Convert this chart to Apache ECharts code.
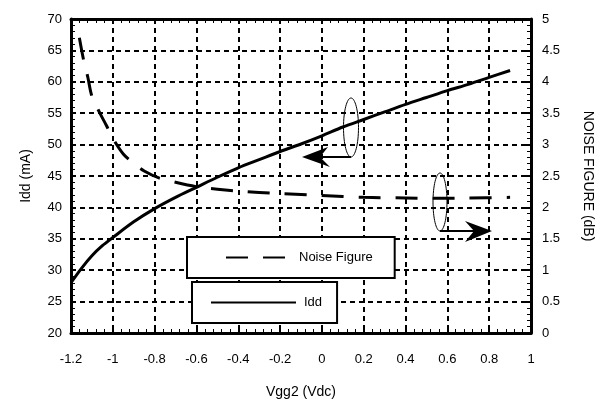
<!DOCTYPE html>
<html>
<head>
<meta charset="utf-8">
<script src="https://cdn.jsdelivr.net/npm/echarts@6/dist/echarts.min.js"></script>
<style>
html,body{margin:0;padding:0;background:#fff;}
#main{width:603px;height:404px;}
</style>
</head>
<body>
<div id="main"></div>
<script>
// Vgg2 (Vdc) values for each series
var iddX = [-1.2, -1.15, -1.1, -1.05, -1.0, -0.9, -0.8, -0.7, -0.6, -0.5, -0.4, -0.3, -0.2, -0.1, 0.0, 0.1, 0.2, 0.3, 0.4, 0.5, 0.6, 0.7, 0.8, 0.9];
var iddY = [28.0, 30.3, 32.3, 33.9, 35.2, 37.7, 39.8, 41.6, 43.2, 44.8, 46.3, 47.6, 48.9, 50.1, 51.4, 52.8, 54.0, 55.2, 56.4, 57.5, 58.6, 59.6, 60.7, 61.8];
var nfX = [-1.16, -1.14, -1.12, -1.10, -1.06, -1.03, -1.00, -0.95, -0.90, -0.85, -0.78, -0.70, -0.60, -0.50, -0.40, -0.20, 0.00, 0.20, 0.40, 0.55, 0.70, 0.90];
var nfY = [4.70, 4.35, 4.08, 3.77, 3.49, 3.30, 3.10, 2.85, 2.70, 2.58, 2.47, 2.40, 2.33, 2.29, 2.26, 2.22, 2.19, 2.16, 2.15, 2.145, 2.15, 2.16];
var seriesNames = ['Noise Figure', 'Idd'];
var axisNames = {x: 'Vgg2 (Vdc)', left: 'Idd (mA)', right: 'NOISE FIGURE (dB)'};

function pairs(xs, ys) { return xs.map(function (x, i) { return [x, ys[i]]; }); }

var FONT = '"Liberation Sans", Arial, Helvetica, sans-serif';
var gridDash = {show: true, lineStyle: {color: '#000', width: 2, type: [5, 4]}};
var frame = {show: true, onZero: false, lineStyle: {color: '#000', width: 3}};
var minor = {show: true, splitNumber: 5, length: 4, lineStyle: {color: '#000', width: 1}};
var lbl = {color: '#000', fontSize: 13, fontFamily: FONT};
var noSym = {color: 'rgba(0,0,0,0)', borderColor: 'rgba(0,0,0,0)', borderWidth: 0};

var chart = echarts.init(document.getElementById('main'), null, {renderer: 'canvas'});
chart.setOption({
  backgroundColor: '#fff',
  animation: false,
  grid: {left: 71, right: 70, top: 19, bottom: 68, containLabel: false},
  xAxis: [{
    type: 'value', position: 'bottom', min: -1.2, max: 1, interval: 0.2,
    name: axisNames.x, nameLocation: 'middle', nameGap: 52,
    nameTextStyle: {color: '#000', fontSize: 14, fontFamily: FONT},
    axisLine: frame, axisTick: {show: true, inside: true, length: 5, lineStyle: {color: '#000', width: 2}},
    minorTick: minor, splitLine: gridDash,
    axisLabel: Object.assign({margin: 20, formatter: function (v) { return String(Math.round(v * 10) / 10); }}, lbl)
  }, {
    type: 'value', position: 'top', min: -1.2, max: 1, interval: 0.2,
    axisLine: frame, axisTick: {show: true, inside: true, length: 5, lineStyle: {color: '#000', width: 2}},
    minorTick: minor, splitLine: {show: false}, axisLabel: {show: false}
  }],
  yAxis: [{
    type: 'value', position: 'left', min: 20, max: 70, interval: 5,
    name: axisNames.left, nameLocation: 'middle', nameGap: 38,
    nameTextStyle: {color: '#000', fontSize: 14, fontFamily: FONT},
    axisLine: frame, axisTick: {show: true, inside: true, length: 5, lineStyle: {color: '#000', width: 2}},
    minorTick: minor, splitLine: gridDash,
    axisLabel: Object.assign({margin: 9}, lbl)
  }, {
    type: 'value', position: 'right', min: 0, max: 5, interval: 0.5,
    name: axisNames.right, nameLocation: 'middle', nameGap: 50, nameRotate: -90,
    nameTextStyle: {color: '#000', fontSize: 14, fontFamily: FONT},
    axisLine: frame, axisTick: {show: true, inside: true, length: 5, lineStyle: {color: '#000', width: 2}},
    minorTick: minor, splitLine: {show: false},
    axisLabel: Object.assign({margin: 11}, lbl)
  }],
  legend: [{
    data: [seriesNames[0]], selectedMode: false,
    left: 187, top: 237, orient: 'horizontal',
    padding: [14, 22, 14, 38],
    itemWidth: 61, itemHeight: 14,
    itemStyle: noSym,
    backgroundColor: '#fff', borderColor: '#000', borderWidth: 2, borderRadius: 0,
    textStyle: {color: '#000', fontSize: 13, fontFamily: FONT, padding: [0, 0, 0, 7]}
  }, {
    data: [seriesNames[1]], selectedMode: false,
    left: 192, top: 282, orient: 'horizontal',
    padding: [14, 15, 14, 18],
    itemWidth: 85, itemHeight: 14,
    itemStyle: noSym,
    backgroundColor: '#fff', borderColor: '#000', borderWidth: 2, borderRadius: 0,
    textStyle: {color: '#000', fontSize: 13, fontFamily: FONT, padding: [0, 0, 0, 3]}
  }],
  series: [{
    name: seriesNames[0], type: 'line', xAxisIndex: 0, yAxisIndex: 1,
    data: pairs(nfX, nfY), showSymbol: false, symbol: 'none', smooth: 0.3,
    lineStyle: {color: '#000', width: 3, type: [22, 15]},
    itemStyle: {color: '#000'}
  }, {
    name: seriesNames[1], type: 'line', xAxisIndex: 0, yAxisIndex: 0,
    data: pairs(iddX, iddY), showSymbol: false, symbol: 'none', smooth: 0.3,
    lineStyle: {color: '#000', width: 3, type: 'solid'},
    itemStyle: {color: '#000'}
  }],
  graphic: [
    {type: 'ellipse', shape: {cx: 351, cy: 127.5, rx: 7.5, ry: 29.5}, style: {fill: 'none', stroke: '#000', lineWidth: 1}, z: 100},
    {type: 'polyline', shape: {points: [[351, 157], [318, 157]]}, style: {stroke: '#000', lineWidth: 2}, z: 100},
    {type: 'polygon', shape: {points: [[302, 157], [328, 147], [320, 157], [330, 167]]}, style: {fill: '#000'}, z: 100},
    {type: 'ellipse', shape: {cx: 440, cy: 202, rx: 7, ry: 29}, style: {fill: 'none', stroke: '#000', lineWidth: 1}, z: 100},
    {type: 'polyline', shape: {points: [[440, 231], [477, 231]]}, style: {stroke: '#000', lineWidth: 2}, z: 100},
    {type: 'polygon', shape: {points: [[492, 231], [465, 221], [474, 231], [465, 242]]}, style: {fill: '#000'}, z: 100}
  ]
});
</script>
</body>
</html>
